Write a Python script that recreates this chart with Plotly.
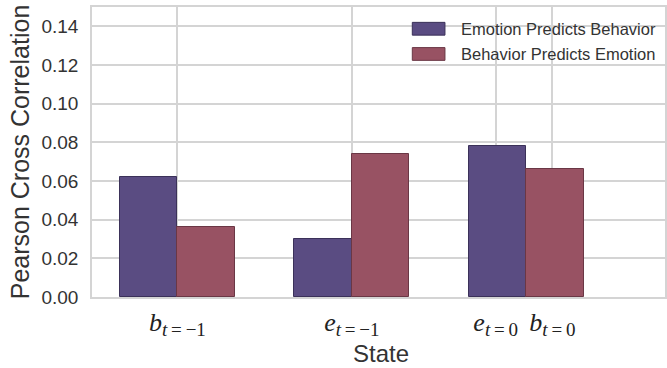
import plotly.graph_objects as go

# Cross-correlation per state, two directions of prediction
group_pos = [0, 1, 2]
emotion_predicts_behavior = [0.062, 0.030, 0.078]
behavior_predicts_emotion = [0.036, 0.074, 0.066]

series_names = ["Emotion Predicts Behavior", "Behavior Predicts Emotion"]
series_colors = ["#5a4c82", "#985263"]
edge_colors = ["#3b3159", "#6a3745"]

SUB = '<sub><span style="font-size:19px"><i>t</i>\u2009=\u2009{}</span></sub>'
tick_pos = [0.33, 1.33, 2.155, 2.48]
tick_labels = [
    "<i>b</i>" + SUB.format("−1"),
    "<i>e</i>" + SUB.format("−1"),
    "<i>e</i>" + SUB.format("0"),
    "<i>b</i>" + SUB.format("0"),
]
y_ticks = [0.00, 0.02, 0.04, 0.06, 0.08, 0.10, 0.12, 0.14]

BAR_W = 0.33
GRID = "#d4d4d4"
TEXT = "#333333"

fig = go.Figure()
for i, vals in enumerate([emotion_predicts_behavior, behavior_predicts_emotion]):
    fig.add_trace(go.Bar(
        x=group_pos, y=vals, width=BAR_W, offset=i * BAR_W,
        name=series_names[i],
        marker=dict(color=series_colors[i],
                    line=dict(color=edge_colors[i], width=1)),
        showlegend=False,
    ))

# legend drawn as swatches + labels
for i, name in enumerate(series_names):
    yc = 0.925 - i * 0.087
    fig.add_shape(type="rect", xref="paper", yref="paper",
                  x0=0.559, x1=0.616, y0=yc - 0.022, y1=yc + 0.022,
                  fillcolor=series_colors[i],
                  line=dict(color=edge_colors[i], width=1), layer="above")
    fig.add_annotation(xref="paper", yref="paper", x=0.64, y=yc,
                       text=name, showarrow=False, xanchor="left",
                       yanchor="middle",
                       font=dict(family="Liberation Sans", size=16.5, color=TEXT))

fig.add_annotation(xref="paper", yref="paper", x=0.505, y=-0.195,
                   text="State", showarrow=False, yanchor="middle",
                   font=dict(family="Liberation Sans", size=24, color=TEXT))

fig.update_layout(
    width=667, height=368,
    margin=dict(l=92, r=0, t=7, b=71),
    plot_bgcolor="white", paper_bgcolor="white",
    barmode="overlay", bargap=0,
    font=dict(family="Liberation Sans", color=TEXT),
    xaxis=dict(range=[-0.16, 3.126], tickvals=tick_pos, ticktext=tick_labels,
               showgrid=True, gridcolor=GRID, gridwidth=1.5,
               showline=True, linecolor=GRID, linewidth=1.5, mirror=True,
               zeroline=False, ticks="", ticklabelstandoff=1,
               tickfont=dict(family="Liberation Serif", size=26, color="#222222")),
    yaxis=dict(range=[0, 0.15], tickvals=y_ticks, tickformat=".2f",
               showgrid=True, gridcolor=GRID, gridwidth=1.5,
               showline=True, linecolor=GRID, linewidth=1.5, mirror=True,
               zeroline=False, ticks="", ticklabelstandoff=8,
               tickfont=dict(family="Liberation Sans", size=19, color=TEXT),
               title=dict(text="Pearson Cross Correlation", standoff=5,
                          font=dict(family="Liberation Sans", size=25, color=TEXT))),
)

fig.write_html("out.html")
